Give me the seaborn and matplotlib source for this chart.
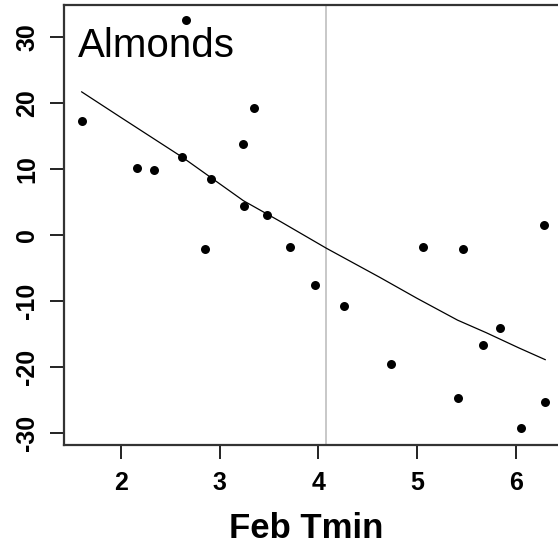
import numpy as np
import pandas as pd
import matplotlib
matplotlib.use("Agg")
import matplotlib.pyplot as plt
import seaborn as sns

# data
feb_tmin = [1.60, 2.16, 2.33, 2.62, 2.66, 2.91, 2.85, 3.24, 3.25, 3.35, 3.48, 3.71,
            3.97, 4.26, 4.74, 5.06, 5.47, 5.41, 5.67, 5.84, 6.05, 6.29, 6.30]
yield_anom = [17.3, 10.2, 9.8, 11.8, 32.6, 8.5, -2.1, 13.8, 4.4, 19.2, 3.0, -1.8,
              -7.6, -10.8, -19.5, -1.8, -2.1, -24.7, -16.7, -14.1, -29.2, 1.5, -25.3]

# fitted curve
curve_x = [1.60, 2.00, 2.62, 3.24, 3.62, 4.08, 4.62, 5.00, 5.41, 5.70, 6.03, 6.30]
curve_y = [21.7, 17.8, 11.8, 5.2, 2.0, -2.0, -6.4, -9.6, -12.9, -14.8, -17.1, -18.9]

threshold = 4.08

x_ticks = [2, 3, 4, 5, 6]
y_ticks = [-30, -20, -10, 0, 10, 20, 30]

df = pd.DataFrame({"Feb Tmin": feb_tmin, "Yield": yield_anom})
fit = pd.DataFrame({"x": curve_x, "y": curve_y})

sns.set_style("white")
plt.rcParams['font.family'] = ['Liberation Sans', 'DejaVu Sans']
plt.rcParams['text.color'] = 'black'
plt.rcParams['xtick.color'] = 'black'
plt.rcParams['ytick.color'] = 'black'

W, H = 558, 560
fig = plt.figure(figsize=(W / 100, H / 100), dpi=100)
left, right, top, bottom = 64, 572, 5, 445
ax = fig.add_axes([left / W, (H - bottom) / H, (right - left) / W, (bottom - top) / H])

px_per_x = 98.7
x0 = 2 - (121 - left) / px_per_x
ax.set_xlim(x0, x0 + (right - left) / px_per_x)
ax.set_ylim((235 - bottom) / 6.6, (235 - top) / 6.6)

ax.axvline(threshold, color="#c4c4c4", lw=1.3, zorder=1)
sns.lineplot(data=fit, x="x", y="y", color="black", lw=0.9, ax=ax, zorder=2)
sns.scatterplot(data=df, x="Feb Tmin", y="Yield", color="black", s=42,
                edgecolor="black", linewidth=0, ax=ax, zorder=3)

ax.set_xticks(x_ticks)
ax.set_xticklabels([str(t) for t in x_ticks], fontsize=18, fontweight="bold")
ax.set_yticks(y_ticks)
ax.set_yticklabels([str(t) for t in y_ticks], fontsize=18, fontweight="bold",
                   rotation=90, va="center")
ax.tick_params(axis="both", length=10, width=1.4, color="#222222", direction="out",
               bottom=True, left=True, labelcolor="black")
ax.tick_params(axis="x", pad=9)
ax.tick_params(axis="y", pad=8)

for s in ["left", "bottom", "top"]:
    ax.spines[s].set_color("#333333")
    ax.spines[s].set_linewidth(1.6)
ax.spines["right"].set_visible(False)

ax.set_ylabel("")
ax.set_xlabel("Feb Tmin", fontsize=25, fontweight="bold", color="black")
ax.xaxis.set_label_coords((306 - left) / (right - left), -(528 - bottom) / (bottom - top), transform=ax.transAxes)
ax.xaxis.label.set_va("center")

ax.text(0.027, 0.95, "Almonds", transform=ax.transAxes, fontsize=29,
        ha="left", va="top", color="black")

fig.savefig("out.png", dpi=100)
